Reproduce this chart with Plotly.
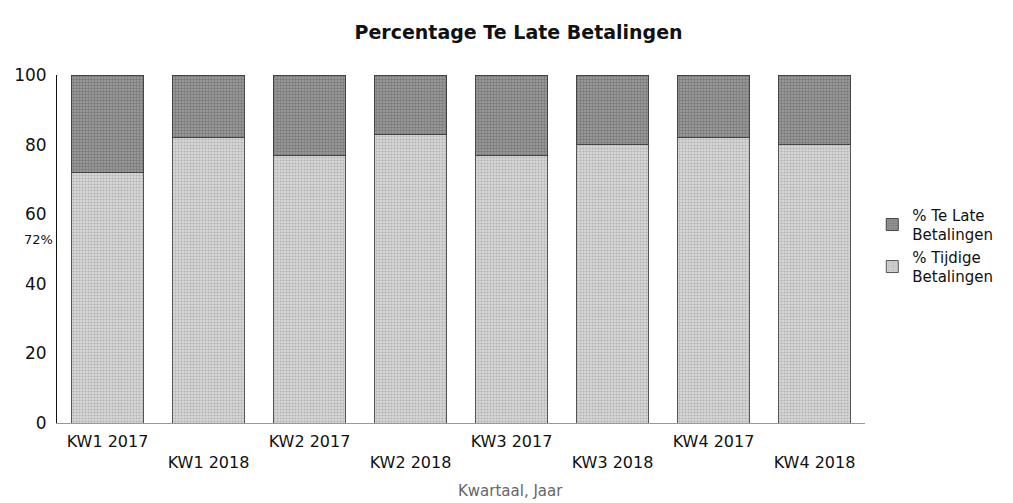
import plotly.graph_objects as go

categories = ["KW1 2017", "KW1 2018", "KW2 2017", "KW2 2018", "KW3 2017", "KW3 2018", "KW4 2017", "KW4 2018"]
tijdige = [72, 82, 77, 83, 77, 80, 82, 80]
te_late = [100 - v for v in tijdige]
tick_labels = [c if i % 2 == 0 else "<br>" + c for i, c in enumerate(categories)]

FONT = "DejaVu Sans"

fig = go.Figure()
fig.add_trace(go.Bar(
    x=categories, y=tijdige, name="% Tijdige<br>Betalingen",
    marker=dict(color="#c8c8c8", line=dict(width=1, color="#555"),
                pattern=dict(shape=".", fgcolor="#8a8a8a", bgcolor="#d8d8d8", size=3, solidity=0.4)),
))
fig.add_trace(go.Bar(
    x=categories, y=te_late, name="% Te Late<br>Betalingen",
    marker=dict(color="#7f7f7f", line=dict(width=1, color="#444"),
                pattern=dict(shape=".", fgcolor="#4f4f4f", bgcolor="#a0a0a0", size=3, solidity=0.5)),
))

fig.update_layout(
    width=1013, height=503,
    barmode="stack", bargap=0.28,
    paper_bgcolor="white", plot_bgcolor="white",
    margin=dict(l=49, r=156, t=67, b=88, autoexpand=False),
    font=dict(family=FONT, size=15, color="#111"),
    title=dict(text="<b>Percentage Te Late Betalingen</b>", x=0.504, xref="container",
               y=0.952, yref="container", xanchor="center", yanchor="middle",
               font=dict(size=19, family=FONT, color="#111")),
    legend=dict(x=1.009, y=0.645, xanchor="left", yanchor="top", traceorder="reversed",
                font=dict(size=15, family=FONT, color="#111"), itemwidth=30,
                tracegroupgap=0, bgcolor="rgba(0,0,0,0)"),
    showlegend=True,
)
fig.update_yaxes(range=[0, 100], tickvals=[0, 20, 40, 60, 80, 100], showgrid=False,
                 showline=True, linecolor="#111", linewidth=1, zeroline=False, automargin=False,
                 ticks="", ticklabelstandoff=6, tickfont=dict(size=17, family=FONT, color="#111"))
fig.update_xaxes(tickvals=categories, ticktext=tick_labels, showgrid=False, automargin=False,
                 showline=True, linecolor="#999", linewidth=1, ticks="",
                 ticklabelstandoff=4,
                 tickfont=dict(size=16, family=FONT, color="#111"), tickangle=0)

fig.add_annotation(text="Kwartaal, Jaar", xref="paper", yref="paper", x=0.561, y=-0.228,
                   showarrow=False, font=dict(size=15, family=FONT, color="#666"))
fig.add_annotation(text="72%", xref="paper", yref="paper", x=-0.043, y=0.526,
                   showarrow=False, font=dict(size=13, family=FONT, color="#111"))

fig.write_html("out.html")
